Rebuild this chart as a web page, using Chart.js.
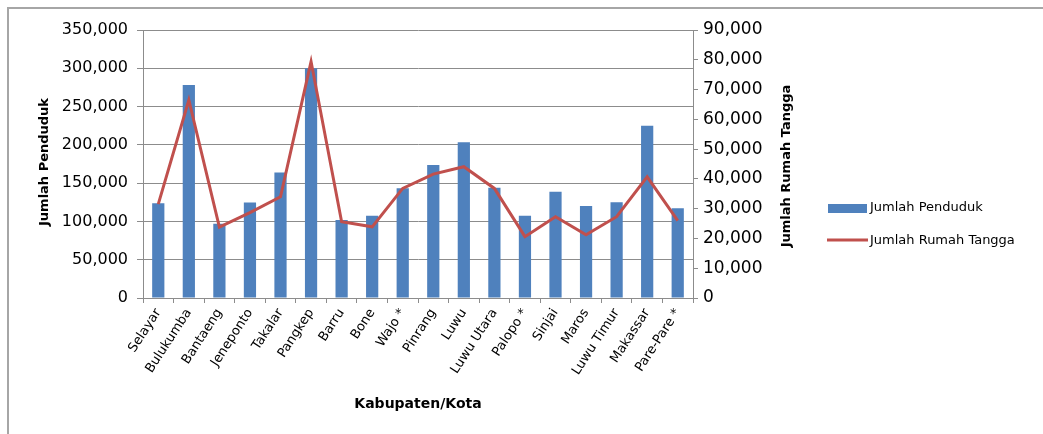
<!DOCTYPE html>
<html>
<head>
<meta charset="utf-8">
<script src="https://cdn.jsdelivr.net/npm/chart.js@4.4.1/dist/chart.umd.min.js"></script>
<style>
  html, body { margin: 0; padding: 0; background: #ffffff; }
  #wrap { position: relative; width: 1043px; height: 434px; }
</style>
</head>
<body>
<div id="wrap"><canvas id="c" width="1043" height="434"></canvas></div>
<script>
const categories = ["Selayar", "Bulukumba", "Bantaeng", "Jeneponto", "Takalar", "Pangkep", "Barru", "Bone", "Wajo *", "Pinrang", "Luwu", "Luwu Utara", "Palopo *", "Sinjai", "Maros", "Luwu Timur", "Makassar", "Pare-Pare *"];
const jumlahPenduduk = [123700, 278200, 97000, 124800, 164000, 300000, 101900, 107500, 143200, 173700, 203300, 144000, 107500, 138800, 120100, 125000, 225000, 117100];
const jumlahRumahTangga = [31500, 66500, 23800, 28700, 34000, 79400, 25600, 23900, 36800, 41600, 44100, 36800, 20600, 27300, 21200, 27300, 40700, 26000];
const leftTicks = [0, 50000, 100000, 150000, 200000, 250000, 300000, 350000];
const rightTicks = [0, 10000, 20000, 30000, 40000, 50000, 60000, 70000, 80000, 90000];
const seriesNames = ["Jumlah Penduduk", "Jumlah Rumah Tangga"];
const axisTitles = { left: "Jumlah Penduduk", right: "Jumlah Rumah Tangga", x: "Kabupaten/Kota" };

const BLUE = "#4F81BD";
const RED = "#C0504D";
const GRID = "#8c8c8c";
const FONT = "'DejaVu Sans', sans-serif";

const fmt = v => Number(v).toLocaleString("en-US");

const decor = {
  id: "decor",
  beforeDraw(chart) {
    const ctx = chart.ctx;
    ctx.save();
    ctx.fillStyle = "#ffffff";
    ctx.fillRect(0, 0, chart.width, chart.height);
    ctx.strokeStyle = "#a6a6a6";
    ctx.lineWidth = 2;
    ctx.beginPath();
    ctx.moveTo(8, chart.height);
    ctx.lineTo(8, 8);
    ctx.lineTo(chart.width, 8);
    ctx.stroke();
    ctx.restore();
  },
  afterDraw(chart) {
    const ctx = chart.ctx;
    const a = chart.chartArea;
    ctx.save();
    ctx.fillStyle = "#000000";
    ctx.textAlign = "center";
    ctx.textBaseline = "middle";
    ctx.font = "bold 13px " + FONT;
    ctx.save();
    ctx.translate(45, 162);
    ctx.rotate(-Math.PI / 2);
    ctx.fillText(axisTitles.left, 0, 0);
    ctx.restore();
    ctx.save();
    ctx.translate(787, 166);
    ctx.rotate(-Math.PI / 2);
    ctx.fillText(axisTitles.right, 0, 0);
    ctx.restore();
    ctx.font = "bold 14px " + FONT;
    ctx.fillText(axisTitles.x, (a.left + a.right) / 2, 404);
    ctx.fillStyle = BLUE;
    ctx.fillRect(828, 204, 39, 9);
    ctx.strokeStyle = RED;
    ctx.lineWidth = 3;
    ctx.beginPath();
    ctx.moveTo(827, 240);
    ctx.lineTo(868, 240);
    ctx.stroke();
    ctx.fillStyle = "#000000";
    ctx.textAlign = "left";
    ctx.font = "13px " + FONT;
    ctx.fillText(seriesNames[0], 870, 208);
    ctx.fillText(seriesNames[1], 870, 241);
    ctx.restore();
  }
};

new Chart(document.getElementById("c"), {
  type: "bar",
  data: {
    labels: categories,
    datasets: [
      {
        type: "line",
        label: seriesNames[1],
        data: jumlahRumahTangga,
        yAxisID: "y1",
        borderColor: RED,
        backgroundColor: RED,
        borderWidth: 3,
        pointRadius: 0,
        tension: 0,
        order: 0
      },
      {
        type: "bar",
        label: seriesNames[0],
        data: jumlahPenduduk,
        yAxisID: "y",
        backgroundColor: BLUE,
        barPercentage: 0.4,
        categoryPercentage: 1.0,
        order: 1
      }
    ]
  },
  options: {
    responsive: false,
    animation: false,
    devicePixelRatio: 1,
    layout: { padding: { left: 0, right: 0, top: 30, bottom: 0 } },
    plugins: { legend: { display: false }, tooltip: { enabled: false } },
    scales: {
      x: {
        offset: true,
        grid: { display: true, drawOnChartArea: false, drawTicks: true, tickLength: 5, color: GRID, offset: true },
        border: { display: true, color: GRID, width: 1 },
        ticks: {
          autoSkip: false, minRotation: 57, maxRotation: 57, padding: 3,
          color: "#000", font: { family: FONT, size: 13 }
        },
        afterFit(scale) { scale.height = 136; }
      },
      y: {
        position: "left",
        min: leftTicks[0], max: leftTicks[leftTicks.length - 1],
        afterBuildTicks(scale) { scale.ticks = leftTicks.map(v => ({ value: v })); },
        grid: { color: GRID, tickLength: 6, drawTicks: true },
        border: { display: true, color: GRID, width: 1 },
        ticks: {
          padding: 9, color: "#000",
          font: { family: FONT, size: 16 },
          callback: v => fmt(v)
        },
        afterFit(scale) { scale.width = 143; }
      },
      y1: {
        position: "right",
        min: rightTicks[0], max: rightTicks[rightTicks.length - 1],
        afterBuildTicks(scale) { scale.ticks = rightTicks.map(v => ({ value: v })); },
        grid: { drawOnChartArea: false, color: GRID, tickLength: 5, drawTicks: true },
        border: { display: true, color: GRID, width: 1 },
        ticks: {
          padding: 5, color: "#000",
          font: { family: FONT, size: 17 },
          callback: v => fmt(v)
        },
        afterFit(scale) { scale.width = 350; }
      }
    }
  },
  plugins: [decor]
});
</script>
</body>
</html>
